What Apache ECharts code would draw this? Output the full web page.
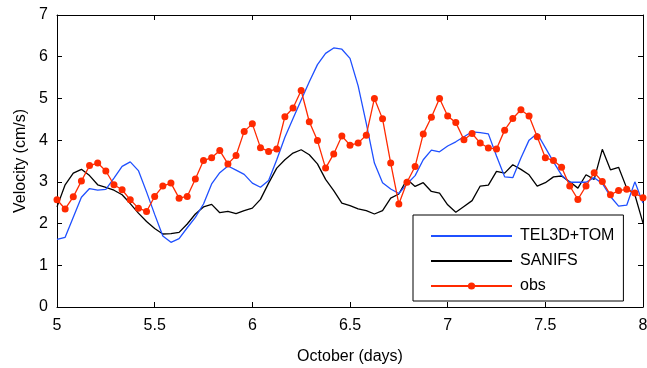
<!DOCTYPE html>
<html>
<head>
<meta charset="utf-8">
<script src="https://cdn.jsdelivr.net/npm/echarts@6/dist/echarts.min.js"></script>
<style>html,body{margin:0;padding:0;background:#fff;}#c{width:647px;height:368px;}</style>
</head>
<body>
<div id="c"></div>
<script>
// Hourly samples from 5 Oct 00:00 to 8 Oct 00:00
const startDay = 5;
const stepDay = 1 / 24;
const tel3dTom = [1.62,1.67,2.15,2.63,2.84,2.80,2.82,3.09,3.37,3.48,3.27,2.76,2.22,1.70,1.55,1.64,1.90,2.15,2.47,2.95,3.22,3.38,3.28,3.18,2.97,2.87,3.03,3.53,4.07,4.52,4.96,5.40,5.81,6.08,6.21,6.18,5.96,5.30,4.40,3.45,2.98,2.83,2.72,2.95,3.15,3.53,3.76,3.72,3.86,3.96,4.08,4.20,4.18,4.15,3.62,3.12,3.10,3.57,4.00,4.16,3.82,3.48,3.16,2.99,2.99,2.99,3.10,2.96,2.65,2.42,2.44,3.00,2.49];
const sanifs = [2.40,2.93,3.21,3.30,3.15,2.93,2.87,2.80,2.69,2.48,2.25,2.05,1.88,1.75,1.76,1.79,1.99,2.23,2.40,2.46,2.26,2.29,2.24,2.31,2.37,2.58,2.97,3.33,3.53,3.69,3.77,3.65,3.43,3.06,2.79,2.49,2.43,2.35,2.31,2.23,2.31,2.61,2.71,3.06,2.89,2.98,2.77,2.73,2.45,2.27,2.41,2.55,2.90,2.92,3.25,3.21,3.41,3.30,3.17,2.90,2.98,3.12,3.14,3.00,2.85,3.17,3.06,3.78,3.29,3.35,2.85,2.69,2.01];
const obs = [2.57,2.35,2.64,3.02,3.39,3.45,3.26,2.93,2.81,2.57,2.37,2.29,2.65,2.90,2.97,2.61,2.65,3.07,3.51,3.58,3.75,3.43,3.63,4.21,4.39,3.82,3.73,3.79,4.56,4.77,5.19,4.44,3.99,3.33,3.67,4.10,3.88,3.93,4.12,5.00,4.51,3.45,2.47,2.99,3.37,4.15,4.55,5.00,4.58,4.42,4.01,4.16,3.93,3.81,3.79,4.24,4.52,4.73,4.58,4.08,3.58,3.51,3.35,2.90,2.58,2.90,3.22,3.01,2.69,2.79,2.82,2.73,2.62];
const seriesNames = ['TEL3D+TOM', 'SANIFS', 'obs'];
const xTicks = [5, 5.5, 6, 6.5, 7, 7.5, 8];
const yTicks = [0, 1, 2, 3, 4, 5, 6, 7];

const times = obs.map((_, i) => startDay + i * stepDay);
const pairs = arr => arr.map((v, i) => [times[i], v]);

const FONT = 'Liberation Sans, Arial, sans-serif';
const BLUE = '#1f50ff', RED = '#ff2a00';
const chart = echarts.init(document.getElementById('c'), null, {renderer: 'canvas'});
const axisLine = {show: true, onZero: false, lineStyle: {color: '#000', width: 1}};
const tick = {show: true, inside: true, length: 5, lineStyle: {color: '#000', width: 1}};
const option = {
  animation: false,
  backgroundColor: '#fff',
  textStyle: {fontFamily: FONT},
  grid: {left: 57, right: 4, top: 15, bottom: 61, containLabel: false, outerBoundsMode: 'none'},
  xAxis: [{
    type: 'value', min: xTicks[0], max: xTicks[xTicks.length - 1], interval: 0.5,
    position: 'bottom',
    name: 'October (days)', nameLocation: 'middle', nameGap: 42,
    nameTextStyle: {color: '#000', fontSize: 16, fontFamily: FONT},
    axisLine: axisLine, axisTick: tick,
    axisLabel: {color: '#000', fontSize: 16, margin: 11, fontFamily: FONT, formatter: v => String(v)},
    splitLine: {show: false}
  }, {
    type: 'value', min: xTicks[0], max: xTicks[xTicks.length - 1], interval: 0.5,
    position: 'top', axisLine: axisLine, axisTick: tick,
    axisLabel: {show: false}, splitLine: {show: false}
  }],
  yAxis: [{
    type: 'value', min: yTicks[0], max: yTicks[yTicks.length - 1], interval: 1,
    position: 'left',
    name: 'Velocity (cm/s)', nameLocation: 'middle', nameGap: 27, nameRotate: 90,
    nameTextStyle: {color: '#000', fontSize: 16, fontFamily: FONT},
    axisLine: axisLine, axisTick: tick,
    axisLabel: {color: '#000', fontSize: 16, margin: 9, fontFamily: FONT},
    splitLine: {show: false}
  }, {
    type: 'value', min: yTicks[0], max: yTicks[yTicks.length - 1], interval: 1,
    position: 'right', axisLine: axisLine, axisTick: tick,
    axisLabel: {show: false}, splitLine: {show: false}
  }],
  legend: {
    data: [
      {name: seriesNames[0], itemStyle: {opacity: 0}},
      {name: seriesNames[1], itemStyle: {opacity: 0}},
      {name: seriesNames[2]}
    ],
    orient: 'vertical', left: 413, top: 215,
    padding: [13, 9, 7, 17],
    itemWidth: 81, itemHeight: 9, itemGap: 9,
    backgroundColor: '#fff', borderColor: '#000', borderWidth: 1, borderRadius: 0,
    textStyle: {color: '#000', fontSize: 16, fontFamily: FONT, padding: [0, 0, 0, 3]}
  },
  series: [{
    name: seriesNames[0], type: 'line', data: pairs(tel3dTom),
    symbol: 'none', lineStyle: {color: BLUE, width: 1.3}, itemStyle: {color: BLUE}, z: 3
  }, {
    name: seriesNames[1], type: 'line', data: pairs(sanifs),
    symbol: 'none', lineStyle: {color: '#000', width: 1.3}, itemStyle: {color: '#000'}, z: 2
  }, {
    name: seriesNames[2], type: 'line', data: pairs(obs),
    symbol: 'circle', symbolSize: 7, showAllSymbol: true,
    lineStyle: {color: RED, width: 1.3}, itemStyle: {color: RED}, z: 4
  }]
};
chart.setOption(option);
</script>
</body>
</html>
